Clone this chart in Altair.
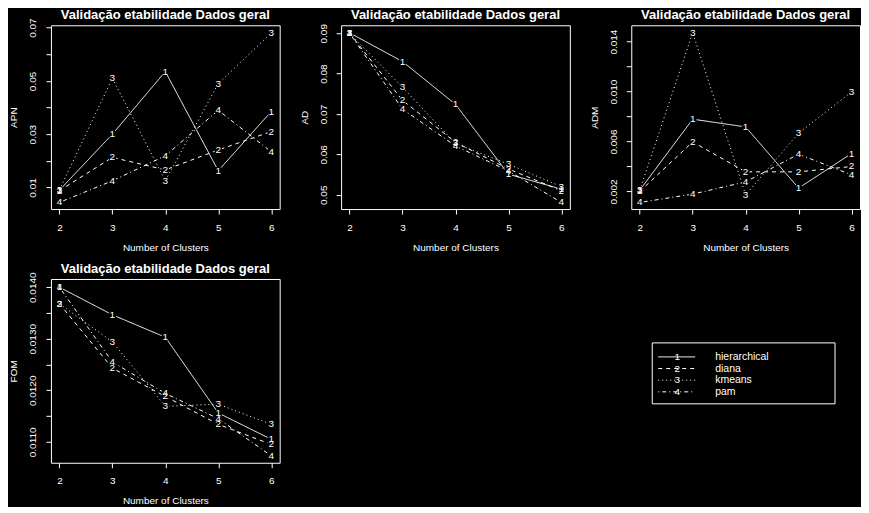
import altair as alt
import pandas as pd

# ---------------- data ----------------
clusters = [2, 3, 4, 5, 6]
methods = ["hierarchical", "diana", "kmeans", "pam"]
digits = ["1", "2", "3", "4"]

apn_hierarchical = [0.0090, 0.0300, 0.0535, 0.0163, 0.0385]
apn_diana = [0.0088, 0.0213, 0.0166, 0.0241, 0.0310]
apn_kmeans = [0.0091, 0.0510, 0.0125, 0.0490, 0.0680]
apn_pam = [0.0044, 0.0125, 0.0219, 0.0390, 0.0234]

ad_hierarchical = [0.0901, 0.0830, 0.0724, 0.0551, 0.0514]
ad_diana = [0.0900, 0.0734, 0.0630, 0.0564, 0.0510]
ad_kmeans = [0.0900, 0.0766, 0.0627, 0.0576, 0.0520]
ad_pam = [0.0900, 0.0712, 0.0621, 0.0559, 0.0481]

adm_hierarchical = [0.00210, 0.00779, 0.00717, 0.00227, 0.00504]
adm_diana = [0.00200, 0.00597, 0.00357, 0.00357, 0.00400]
adm_kmeans = [0.00210, 0.01472, 0.00173, 0.00667, 0.00997]
adm_pam = [0.00112, 0.00179, 0.00277, 0.00499, 0.00333]

fom_hierarchical = [0.01400, 0.013465, 0.01303, 0.01156, 0.01105]
fom_diana = [0.01368, 0.01243, 0.01188, 0.01134, 0.01095]
fom_kmeans = [0.01368, 0.01294, 0.01169, 0.01173, 0.01134]
fom_pam = [0.01400, 0.01255, 0.01194, 0.01145, 0.01073]

apn_ticks = [0.01, 0.02, 0.03, 0.04, 0.05, 0.06, 0.07]
apn_labels = ["0.01", "0.03", "0.05", "0.07"]
ad_ticks = [0.05, 0.06, 0.07, 0.08, 0.09]
ad_labels = ["0.05", "0.06", "0.07", "0.08", "0.09"]
adm_ticks = [0.002, 0.004, 0.006, 0.008, 0.010, 0.012, 0.014]
adm_labels = ["0.002", "0.006", "0.010", "0.014"]
fom_ticks = [0.0110, 0.0115, 0.0120, 0.0125, 0.0130, 0.0135, 0.0140]
fom_labels = ["0.0110", "0.0120", "0.0130", "0.0140"]

TITLE = "Validação etabilidade Dados geral"
FONT = "Liberation Sans"
DASHES = [[1, 0], [4, 4], [1, 3], [1, 3, 4, 3]]
W, H = 229, 184


def long_df(series):
    rows = []
    for m, d, vals in zip(methods, digits, series):
        for k, v in zip(clusters, vals):
            rows.append({"k": k, "v": v, "method": m, "digit": d})
    return pd.DataFrame(rows)


def panel(series, ylab, domain, ticks, shown, fmt, title_offset):
    df = long_df(series)
    lst = ",".join("'%s'" % s for s in shown)
    expr = "indexof([%s], format(datum.value, '%s')) >= 0 ? format(datum.value, '%s') : ''" % (lst, fmt, fmt)
    x = alt.X("k:Q", scale=alt.Scale(domain=[1.84, 6.16], nice=False, zero=False),
              axis=alt.Axis(values=clusters, title="Number of Clusters", format="d",
                            labelPadding=8, titlePadding=10))
    y = alt.Y("v:Q", scale=alt.Scale(domain=domain, nice=False, zero=False),
              axis=alt.Axis(values=ticks, labelExpr=expr, title=ylab, labelAngle=270,
                            labelAlign="center", labelBaseline="bottom",
                            labelPadding=8, titlePadding=9))
    base = alt.Chart(df).encode(x=x, y=y)
    lines = base.mark_line(color="white", strokeWidth=1).encode(
        strokeDash=alt.StrokeDash("method:N", scale=alt.Scale(domain=methods, range=DASHES), legend=None),
        detail="method:N")
    dots = base.mark_point(filled=True, color="black", opacity=1, size=60, shape="circle")
    txt = base.mark_text(color="white", font=FONT, fontSize=10).encode(text="digit:N")
    return alt.layer(lines, dots, txt).properties(
        width=W, height=H,
        title=alt.Title(TITLE, font=FONT, fontSize=13, fontWeight="bold", color="white",
                        anchor="middle", frame="group", offset=title_offset))


p1 = panel([apn_hierarchical, apn_diana, apn_kmeans, apn_pam], "APN",
           [0.0019, 0.0709], apn_ticks, apn_labels, ".2f", -4.3)
p2 = panel([ad_hierarchical, ad_diana, ad_kmeans, ad_pam], "AD",
           [0.04646, 0.09198], ad_ticks, ad_labels, ".2f", 1.3)
p3 = panel([adm_hierarchical, adm_diana, adm_kmeans, adm_pam], "ADM",
           [0.000592, 0.01531], adm_ticks, adm_labels, ".3f", 3.0)
p4 = panel([fom_hierarchical, fom_diana, fom_kmeans, fom_pam], "FOM",
           [0.010594, 0.01416], fom_ticks, fom_labels, ".4f", -4.0)

one = pd.DataFrame({"a": [0]})
blank = alt.Chart(one).mark_point(opacity=0).encode(
    x=alt.value(0), y=alt.value(0)).properties(
    width=W, height=H, view=alt.ViewBackground(stroke="transparent"))

leg_df = pd.DataFrame({"method": methods, "digit": digits})
ly = alt.Y("method:N", scale=alt.Scale(type="point", domain=methods, range=[78, 113], padding=0), axis=None)
box = alt.Chart(one).mark_rect(fill="black", stroke="white", strokeWidth=1).encode(
    x=alt.value(21), x2=alt.value(204), y=alt.value(64), y2=alt.value(125))
leg_lines = alt.Chart(leg_df).mark_rule(color="white", strokeWidth=1).encode(
    x=alt.value(27), x2=alt.value(64), y=ly,
    strokeDash=alt.StrokeDash("method:N", scale=alt.Scale(domain=methods, range=DASHES), legend=None))
leg_digits = alt.Chart(leg_df).mark_text(color="white", font=FONT, fontSize=10).encode(
    x=alt.value(46), y=ly, text="digit:N")
leg_names = alt.Chart(leg_df).mark_text(color="white", font=FONT, fontSize=10.5, align="left").encode(
    x=alt.value(84), y=ly, text="method:N")
legend = alt.layer(box, leg_lines, leg_digits, leg_names).properties(
    width=W, height=H, view=alt.ViewBackground(stroke="transparent"))

chart = alt.concat(p1, p2, p3, p4, blank, legend, columns=3,
                   spacing={"row": 70, "column": 61.5}, bounds="flush").properties(
    padding={"left": 0, "top": 0, "right": 0, "bottom": 0}
).configure(background="black").configure_view(
    stroke="white", strokeWidth=1
).configure_axis(
    labelFont=FONT, labelFontSize=10, labelColor="white",
    titleFont=FONT, titleFontSize=10, titleColor="white", titleFontWeight="normal",
    tickColor="white", tickSize=5, tickWidth=1, grid=False, domain=False
).resolve_scale(strokeDash="independent")

chart.save("out.html", embed_options={"renderer": "svg", "actions": False})
